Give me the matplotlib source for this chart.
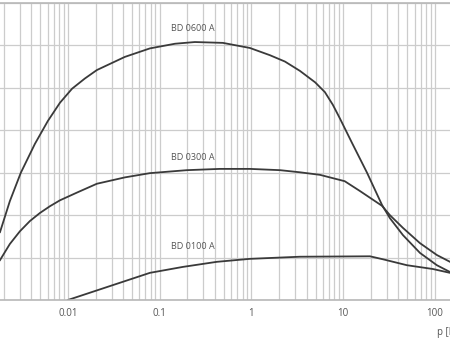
import matplotlib
matplotlib.use("Agg")
import matplotlib.pyplot as plt
from matplotlib.ticker import LogLocator, NullFormatter

# pressure p (log scale) and response in grid units
p_0600 = [0.00182, 0.00233, 0.00307, 0.00437, 0.00605, 0.0082, 0.0111, 0.0153, 0.0207,
          0.0418, 0.0783, 0.147, 0.242, 0.489, 0.963, 1.59, 2.32, 3.38, 4.95, 6.32,
          7.72, 9.21, 12.5, 18.2, 26.5, 32.3, 44.8, 68.7, 105, 146]
y_0600 = [1.60, 2.33, 3.00, 3.68, 4.22, 4.65, 4.98, 5.22, 5.42,
          5.73, 5.93, 6.04, 6.08, 6.06, 5.94, 5.77, 5.62, 5.40, 5.13, 4.90,
          4.60, 4.28, 3.70, 3.00, 2.24, 1.93, 1.53, 1.11, 0.82, 0.66]

p_0300 = [0.00182, 0.00233, 0.0030, 0.00385, 0.00495, 0.00637, 0.0082, 0.0125, 0.0207,
          0.0418, 0.0783, 0.198, 0.452, 0.963, 2.05, 3.38, 5.58, 10.4, 15.2, 26.5,
          32.3, 44.8, 68.7, 105, 146]
y_0300 = [0.94, 1.32, 1.62, 1.86, 2.05, 2.21, 2.35, 2.53, 2.74,
          2.89, 2.99, 3.06, 3.09, 3.09, 3.06, 3.01, 2.95, 2.80, 2.57, 2.22,
          2.00, 1.70, 1.34, 1.06, 0.90]

p_0100 = [0.01, 0.0783, 0.179, 0.421, 0.963, 3.38, 19.6, 27.1, 49.5, 95.2, 146]
y_0100 = [0.0, 0.64, 0.78, 0.90, 0.97, 1.02, 1.03, 0.96, 0.82, 0.73, 0.64]

labels = ["BD 0600 A", "BD 0300 A", "BD 0100 A"]
label_pos = [(0.23, 6.39), (0.23, 3.35), (0.23, 1.25)]
xtick_vals = [0.01, 0.1, 1, 10, 100]
xtick_labels = ["0.01", "0.1", "1", "10", "100"]

plt.rcParams['font.family'] = ['Open Sans', 'DejaVu Sans']

fig = plt.figure(figsize=(4.5, 3.38), dpi=100)
ax = fig.add_axes([0, 1 - 300/338, 1, 297/338])
ax.set_xscale('log')
ax.set_xlim(0.00182, 146)
ax.set_ylim(0, 7)

grid_col = '#cccccc'
ax.xaxis.set_minor_locator(LogLocator(base=10, subs=range(2, 10), numticks=50))
ax.xaxis.set_minor_formatter(NullFormatter())
ax.set_xticks(xtick_vals)
ax.set_xticklabels(xtick_labels)
ax.set_yticks(range(0, 8))
ax.set_yticklabels([])
ax.grid(True, which='major', color=grid_col, lw=0.9)
ax.grid(True, which='minor', axis='x', color=grid_col, lw=0.9)
ax.tick_params(which='both', length=0)
ax.tick_params(axis='x', labelsize=7, labelcolor='#555555', pad=6)
for s in ['left', 'right']:
    ax.spines[s].set_visible(False)
for s in ['top', 'bottom']:
    ax.spines[s].set_color('#b8b8b8')
    ax.spines[s].set_linewidth(1.2)

line_col = '#3a3a3a'
ax.plot(p_0600, y_0600, color=line_col, lw=1.3)
ax.plot(p_0300, y_0300, color=line_col, lw=1.3)
ax.plot(p_0100, y_0100, color=line_col, lw=1.3)

for t, (x, y) in zip(labels, label_pos):
    ax.text(x, y, t, fontsize=6.5, color='#555555', ha='center', va='center')

fig.text(437/450, 1 - 332/338, "p [bar]", fontsize=7, color='#555555', ha='left', va='center')

fig.savefig("out.png", dpi=100)
